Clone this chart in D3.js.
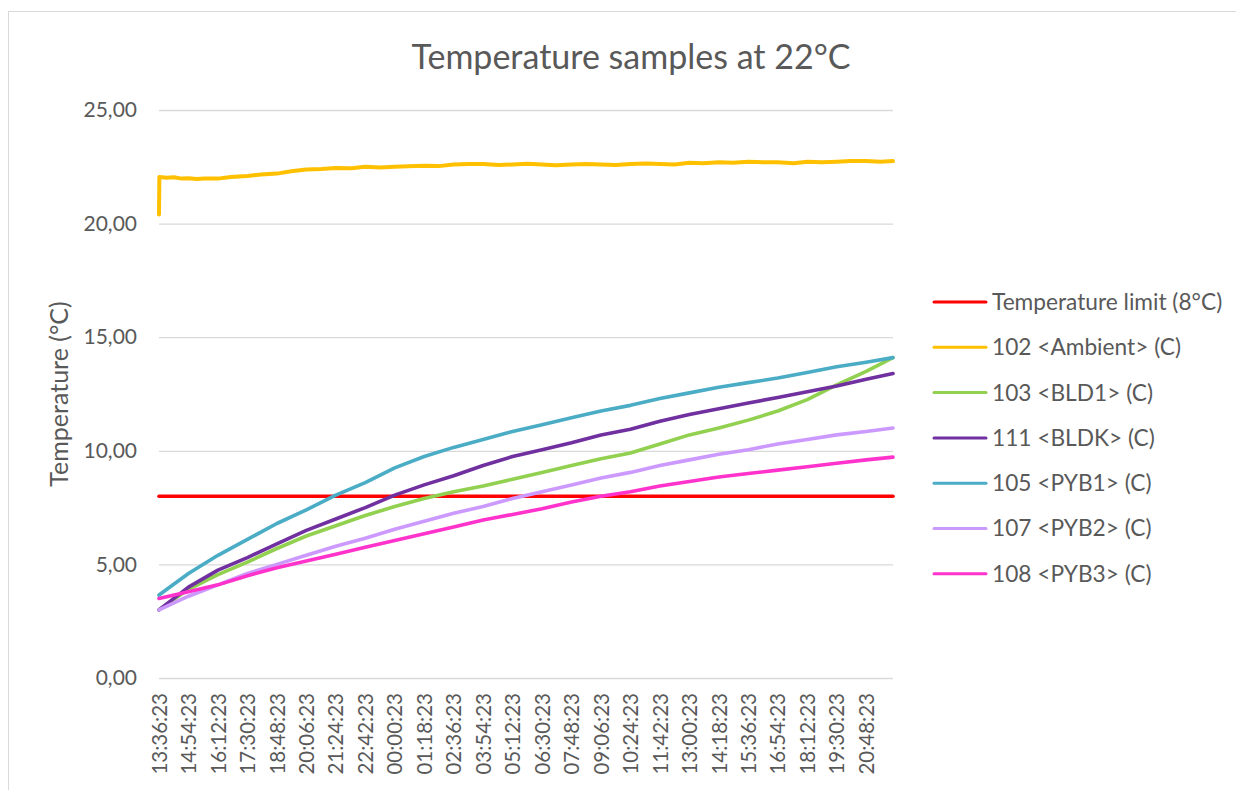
<!DOCTYPE html>
<html><head><meta charset="utf-8">
<script src="https://cdn.jsdelivr.net/npm/d3@7"></script>
<style>
body{margin:0;background:#fff}
svg{display:block}
text{font-family:Lato,"Open Sans",sans-serif;fill:#595959}
</style>
</head><body>
<svg id="c" width="1236" height="790"></svg>
<script>
// ---- data (minutes since 13:36:23) ----
const tickMinutes = [0,78,156,234,312,390,468,546,624,702,780,858,936,1014,1092,1170,1248,1326,1404,1482,1560,1638,1716,1794,1872];
const tickLabels = ["13:36:23","14:54:23","16:12:23","17:30:23","18:48:23","20:06:23","21:24:23","22:42:23","00:00:23","01:18:23","02:36:23","03:54:23","05:12:23","06:30:23","07:48:23","09:06:23","10:24:23","11:42:23","13:00:23","14:18:23","15:36:23","16:54:23","18:12:23","19:30:23","20:48:23"];
const sampleMinutes = [0,78,156,234,312,390,468,546,624,702,780,858,936,1014,1092,1170,1248,1326,1404,1482,1560,1638,1716,1794,1872,1943];
const yTicks = [0,5,10,15,20,25];

const limitMinutes = [0,1943];
const limitValues = [8,8];

const ambientMinutes = [0,1,20,40,60,78,100,120,156,190,234,270,312,350,390,430,468,510,546,585,624,660,702,740,780,820,858,900,936,975,1014,1050,1092,1130,1170,1210,1248,1290,1326,1365,1404,1440,1482,1520,1560,1600,1638,1680,1716,1755,1794,1830,1872,1910,1943];
const ambientValues  = [20.4,22.05,22.02,22.04,21.98,22.0,21.96,21.99,21.98,22.05,22.1,22.16,22.2,22.3,22.38,22.4,22.45,22.44,22.5,22.47,22.5,22.52,22.55,22.53,22.6,22.62,22.62,22.58,22.6,22.63,22.6,22.57,22.6,22.62,22.6,22.58,22.62,22.65,22.62,22.6,22.68,22.66,22.7,22.68,22.72,22.7,22.7,22.66,22.72,22.7,22.72,22.75,22.75,22.72,22.75];

const bld1Values = [3.0,3.9,4.55,5.1,5.7,6.25,6.7,7.15,7.55,7.9,8.2,8.45,8.75,9.05,9.35,9.65,9.9,10.3,10.7,11.0,11.35,11.75,12.25,12.9,13.5,14.1];
const bldkValues = [3.0,4.0,4.75,5.3,5.9,6.5,7.0,7.5,8.05,8.5,8.9,9.35,9.75,10.05,10.35,10.7,10.95,11.3,11.6,11.85,12.1,12.35,12.6,12.85,13.15,13.4];
const pyb1Values = [3.65,4.6,5.4,6.1,6.8,7.4,8.05,8.6,9.25,9.75,10.15,10.5,10.85,11.15,11.45,11.75,12.0,12.3,12.55,12.8,13.0,13.2,13.45,13.7,13.9,14.1];
const pyb2Values = [3.0,3.6,4.1,4.6,5.0,5.4,5.8,6.15,6.55,6.9,7.25,7.55,7.9,8.2,8.5,8.8,9.05,9.35,9.6,9.85,10.05,10.3,10.5,10.7,10.85,11.0];
const pyb3Values = [3.5,3.8,4.1,4.5,4.85,5.15,5.45,5.75,6.05,6.35,6.65,6.95,7.2,7.45,7.75,8.0,8.2,8.45,8.65,8.85,9.0,9.15,9.3,9.45,9.6,9.72];

const seriesNames = ["Temperature limit (8°C)","102 <Ambient> (C)","103 <BLD1> (C)","111 <BLDK> (C)","105 <PYB1> (C)","107 <PYB2> (C)","108 <PYB3> (C)"];
const seriesColors = ["#ff0000","#ffc000","#92d050","#7030a0","#4bacc6","#cc99ff","#ff33cc"];

const series = [
  {x: limitMinutes, y: limitValues},
  {x: ambientMinutes, y: ambientValues},
  {x: sampleMinutes, y: bld1Values},
  {x: sampleMinutes, y: bldkValues},
  {x: sampleMinutes, y: pyb1Values},
  {x: sampleMinutes, y: pyb2Values},
  {x: sampleMinutes, y: pyb3Values}
];

// ---- drawing ----
const svg = d3.select("#c");
const L = 159, R = 893, T = 110, B = 678;
const x = d3.scaleLinear().domain([0,1943]).range([L,R]);
const y = d3.scaleLinear().domain([0,25]).range([B,T]);

// outer border
svg.append("rect").attr("x",8.5).attr("y",11.5).attr("width",1240).attr("height",800)
  .attr("fill","none").attr("stroke","#d9d9d9").attr("stroke-width",1);

// title
svg.append("text").attr("x",631).attr("y",69).attr("text-anchor","middle")
  .style("font-size","34px").text("Temperature samples at 22°C");

// y grid + labels
const yAxis = d3.axisLeft(y).tickValues(yTicks).tickSize(-(R-L)).tickPadding(22)
  .tickFormat(d => d3.format(".2f")(d).replace(".",","));
const gy = svg.append("g").attr("transform",`translate(${L},0)`).call(yAxis);
gy.select(".domain").remove();
gy.selectAll("line").attr("stroke","#d9d9d9").attr("stroke-width",1.3);
gy.selectAll("text").style("font-size","21px").attr("fill","#595959");

// x axis
const xAxis = d3.axisBottom(x).tickValues(tickMinutes).tickSize(0).tickPadding(0)
  .tickFormat((d,i) => tickLabels[i]);
const gx = svg.append("g").attr("transform",`translate(0,${B})`).call(xAxis);
gx.select(".domain").remove();
gx.selectAll("text")
  .attr("transform","rotate(-90)")
  .attr("text-anchor","end")
  .attr("x",-15).attr("y",0).attr("dy","0.35em")
  .style("font-size","20.5px").attr("fill","#595959");

// y axis title
svg.append("text").attr("transform","translate(68,394) rotate(-90)")
  .attr("text-anchor","middle").style("font-size","25px").text("Temperature (°C)");

// lines
const line = d3.line().x(d => x(d[0])).y(d => y(d[1]));
series.forEach((s,i) => {
  const pts = s.x.map((m,j) => [m, s.y[j]]);
  svg.append("path").attr("d", line(pts)).attr("fill","none")
    .attr("stroke", seriesColors[i]).attr("stroke-width", i===1 ? 4 : 3.6)
    .attr("stroke-linejoin","round").attr("stroke-linecap","round");
});

// legend
const lg = svg.append("g");
seriesNames.forEach((n,i) => {
  const yy = 302 + i*45.3;
  lg.append("line").attr("x1",934).attr("x2",986).attr("y1",yy).attr("y2",yy)
    .attr("stroke",seriesColors[i]).attr("stroke-width",3).attr("stroke-linecap","round");
  lg.append("text").attr("x",992).attr("y",yy).attr("dy","0.35em")
    .style("font-size","22.7px").text(n);
});
</script>
</body></html>
